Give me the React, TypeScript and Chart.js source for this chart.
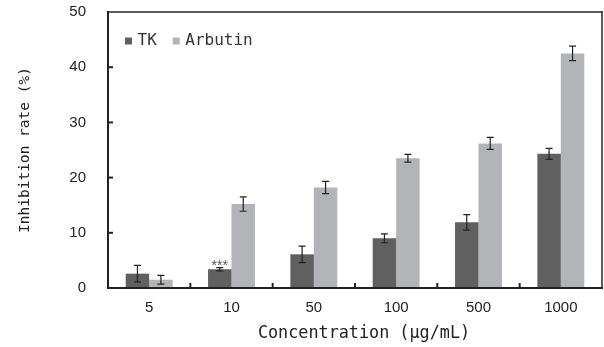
import React, { useEffect, useRef } from "react";
import { Chart, registerables } from "chart.js";

Chart.register(...registerables);

const categories = ["5", "10", "50", "100", "500", "1000"];
const tkValues = [2.6, 3.4, 6.1, 9.0, 11.9, 24.3];
const tkErrors = [1.5, 0.3, 1.5, 0.8, 1.4, 1.0];
const arbutinValues = [1.5, 15.2, 18.2, 23.5, 26.2, 42.5];
const arbutinErrors = [0.8, 1.3, 1.1, 0.7, 1.1, 1.3];
const seriesLabels = ["TK", "Arbutin"];
const seriesColors = ["#606061", "#b3b4b7"];
const xTitle = "Concentration (μg/mL)";
const yTitle = "Inhibition rate (%)";
const yMin = 0;
const yMax = 50;
const yStep = 10;
const significance = [{ dataset: 0, index: 1, text: "***" }];

const errorSets = [tkErrors, arbutinErrors];
const monoFont = "'DejaVu Sans Mono', monospace";
const sansFont = "'Liberation Sans', Arial, sans-serif";

function resetCtx(ctx: CanvasRenderingContext2D) {
  ctx.setLineDash([]);
  ctx.globalAlpha = 1;
  ctx.globalCompositeOperation = "source-over";
}

const customPlugin = {
  id: "customDecor",
  afterDatasetsDraw(chart: any) {
    const ctx = chart.ctx;
    const yScale = chart.scales.y;
    chart.data.datasets.forEach((ds: any, di: number) => {
      const meta = chart.getDatasetMeta(di);
      meta.data.forEach((bar: any, i: number) => {
        const v = ds.data[i];
        const e = errorSets[di][i];
        const yTop = yScale.getPixelForValue(v + e);
        const yBot = yScale.getPixelForValue(v - e);
        const x = bar.x;
        ctx.save();
        resetCtx(ctx);
        ctx.strokeStyle = "#222";
        ctx.lineWidth = 1.2;
        ctx.beginPath();
        ctx.moveTo(x, yTop);
        ctx.lineTo(x, yBot);
        ctx.moveTo(x - 3.5, yTop);
        ctx.lineTo(x + 3.5, yTop);
        ctx.moveTo(x - 3.5, yBot);
        ctx.lineTo(x + 3.5, yBot);
        ctx.stroke();
        ctx.restore();
      });
    });
    significance.forEach((s) => {
      const meta = chart.getDatasetMeta(s.dataset);
      const bar = meta.data[s.index];
      const v = chart.data.datasets[s.dataset].data[s.index];
      const e = errorSets[s.dataset][s.index];
      const yTop = yScale.getPixelForValue(v + e);
      ctx.save();
      ctx.fillStyle = "#555";
      ctx.font = `14px ${sansFont}`;
      ctx.textAlign = "center";
      ctx.textBaseline = "alphabetic";
      ctx.fillText(s.text, bar.x, yTop + 2.5);
      ctx.restore();
    });
  },
  afterDraw(chart: any) {
    const ctx = chart.ctx;
    const { left, right, top, bottom } = chart.chartArea;
    const xScale = chart.scales.x;
    const yScale = chart.scales.y;
    ctx.save();
    resetCtx(ctx);
    // frame (top/right thinner, left/bottom axes thicker)
    ctx.fillStyle = "#333";
    ctx.fillRect(left, top - 0.8, right - left + 0.8, 1.6);
    ctx.fillRect(right - 0.8, top - 0.8, 1.6, bottom - top + 0.8);
    ctx.fillStyle = "#222";
    ctx.fillRect(left - 1, top - 1, 2, bottom - top + 2);
    ctx.fillRect(left - 1, bottom - 1, right - left + 2, 2);
    // inward y ticks
    for (let v = yMin + yStep; v < yMax; v += yStep) {
      const y = yScale.getPixelForValue(v);
      ctx.fillRect(left, y - 1, 5, 2);
    }
    // inward x ticks at category boundaries
    for (let i = 0; i < categories.length - 1; i++) {
      const x = (xScale.getPixelForValue(i) + xScale.getPixelForValue(i + 1)) / 2;
      ctx.fillRect(x - 1, bottom - 5, 2, 5);
    }
    // x axis title
    ctx.fillStyle = "#222";
    ctx.font = `16.8px ${monoFont}`;
    ctx.textAlign = "center";
    ctx.textBaseline = "middle";
    ctx.fillText(xTitle, (left + right) / 2 + 9, xScale.bottom - 13);
    // legend inside plot
    ctx.font = `16px ${monoFont}`;
    ctx.textBaseline = "middle";
    ctx.textAlign = "left";
    let lx = left + 17;
    const ly = top + 29;
    chart.data.datasets.forEach((ds: any) => {
      ctx.fillStyle = ds.backgroundColor;
      ctx.fillRect(lx, ly - 3.5, 7, 7);
      ctx.fillStyle = "#333";
      ctx.fillText(ds.label, lx + 12.5, ly);
      lx += 12.5 + ctx.measureText(ds.label).width + 16;
    });
    ctx.restore();
  },
};

export default function App() {
  const canvasRef = useRef<HTMLCanvasElement | null>(null);

  useEffect(() => {
    document.body.style.margin = "0";
    const canvas = canvasRef.current;
    if (!canvas) return;
    const chart = new Chart(canvas, {
      type: "bar",
      data: {
        labels: categories,
        datasets: [
          {
            label: seriesLabels[0],
            data: tkValues,
            backgroundColor: seriesColors[0],
            borderWidth: 0,
            categoryPercentage: 0.57,
            barPercentage: 1,
          },
          {
            label: seriesLabels[1],
            data: arbutinValues,
            backgroundColor: seriesColors[1],
            borderWidth: 0,
            categoryPercentage: 0.57,
            barPercentage: 1,
          },
        ],
      },
      options: {
        animation: false,
        responsive: false,
        devicePixelRatio: 1,
        layout: { padding: { left: 0, right: 2, top: 12, bottom: 0 } },
        plugins: {
          legend: { display: false },
          tooltip: { enabled: false },
        },
        scales: {
          x: {
            grid: { display: false, drawTicks: false },
            border: { display: false },
            ticks: {
              padding: 10.5,
              color: "#222",
              font: { family: sansFont, size: 15 },
              maxRotation: 0,
            },
            title: { display: false, text: xTitle },
            afterFit: (scale: any) => {
              scale.height = 59;
              scale.paddingLeft = 0;
              scale.paddingRight = 0;
            },
          },
          y: {
            min: yMin,
            max: yMax,
            grid: { display: false, drawTicks: false },
            border: { display: false },
            ticks: {
              stepSize: yStep,
              padding: 22,
              color: "#222",
              font: { family: sansFont, size: 15 },
            },
            title: {
              display: true,
              text: yTitle,
              color: "#222",
              font: { family: monoFont, size: 14.5 },
              padding: { top: 16.5, bottom: 0 },
            },
            afterFit: (scale: any) => {
              scale.width = 108;
              scale.paddingTop = 0;
              scale.paddingBottom = 0;
            },
          },
        },
      },
      plugins: [customPlugin],
    });
    return () => chart.destroy();
  }, []);

  return (
    <canvas
      ref={canvasRef}
      width={604}
      height={347}
      style={{ display: "block", width: 604, height: 347 }}
    />
  );
}
